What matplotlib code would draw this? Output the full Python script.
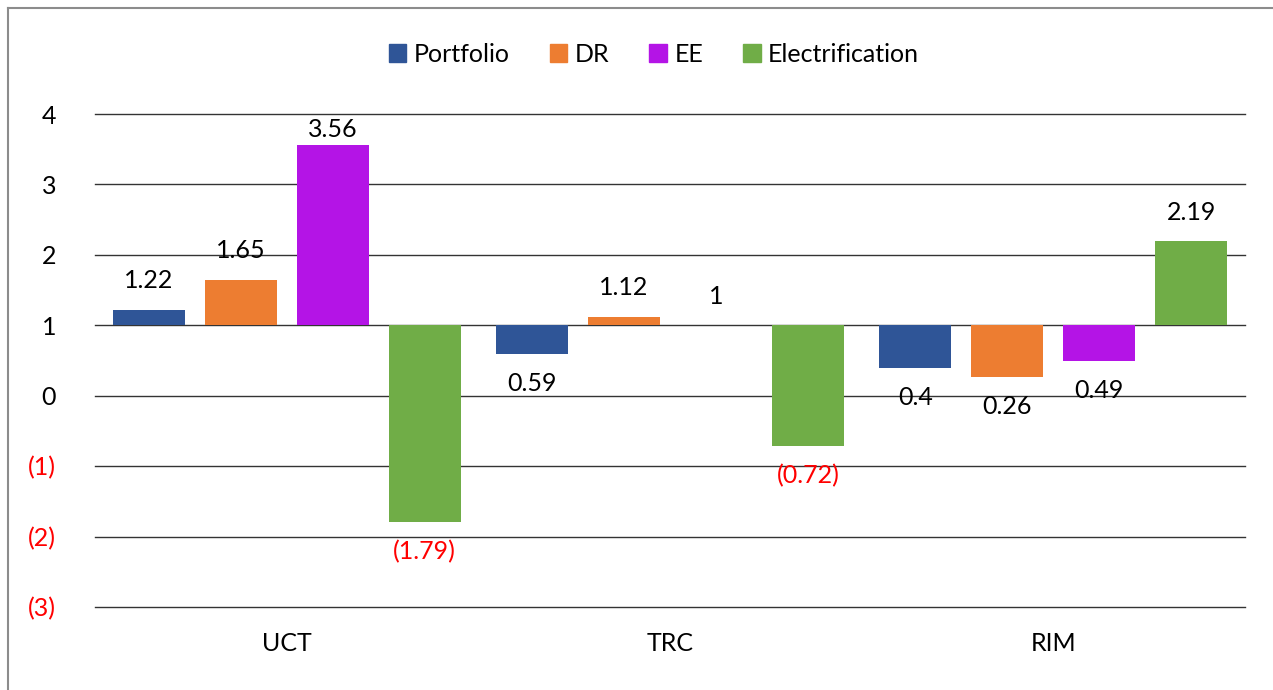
import numpy as np
import matplotlib.pyplot as plt
from matplotlib.lines import Line2D

plt.rcParams['font.family'] = ['Lato', 'DejaVu Sans']

categories = ['UCT', 'TRC', 'RIM']
series = ['Portfolio', 'DR', 'EE', 'Electrification']
portfolio = [1.22, 0.59, 0.40]
dr = [1.65, 1.12, 0.26]
ee = [3.56, 1.00, 0.49]
electrification = [-1.79, -0.72, 2.19]
colors = ['#2F5597', '#ED7D31', '#B414E6', '#70AD47']
yticks = [-3, -2, -1, 0, 1, 2, 3, 4]

base = 1  # horizontal axis crosses at 1

fig = plt.figure(figsize=(12.73, 6.9), dpi=100)
ax = fig.add_axes([95 / 1273, 1 - 607 / 690, 1150 / 1273, (607 - 114) / 690])

x = np.arange(len(categories))
slot = 0.24
width = 0.188
for i, (name, vals, c) in enumerate(zip(series, [portfolio, dr, ee, electrification], colors)):
    pos = x + (i - 1.5) * slot
    vals = np.array(vals)
    ax.bar(pos, vals - base, width, bottom=base, color=c, label=name, zorder=2)
    for xp, v in zip(pos, vals):
        txt = f'({abs(v):g})' if v < 0 else f'{v:g}'
        col = 'red' if v < 0 else 'black'
        if v >= base:
            y = min(v + 0.41, 3.78)
        else:
            y = v - 0.42
        ax.text(xp, y, txt, ha='center', va='center', fontsize=18, color=col, zorder=3)

ax.set_xlim(-0.5, 2.5)
ax.set_ylim(-3, 4)
ax.set_yticks(yticks)
ax.set_yticklabels([f'({abs(t)})' if t < 0 else str(t) for t in yticks], fontsize=18)
for lbl, t in zip(ax.get_yticklabels(), yticks):
    if t < 0:
        lbl.set_color('red')
ax.set_xticks(x)
ax.set_xticklabels(categories, fontsize=18)
ax.tick_params(axis='both', length=0)
ax.tick_params(axis='y', pad=28)
ax.tick_params(axis='x', pad=18)
for s in ax.spines.values():
    s.set_visible(False)
for t in yticks:
    ax.axhline(t, color='#333333', linewidth=1.0, zorder=0, clip_on=False)

handles = [plt.Rectangle((0, 0), 1, 1, color=c) for c in colors]
fig.legend(handles, series, loc='center', bbox_to_anchor=(654 / 1273, 1 - 54 / 690),
           ncol=4, frameon=False, fontsize=18, handlelength=0.7, handleheight=0.7,
           handletextpad=0.3, columnspacing=1.6)

# chart area border (top and left visible)
fig.add_artist(Line2D([8 / 1273, 1.0], [1 - 8 / 690, 1 - 8 / 690], color='#8c8c8c', lw=1.5))
fig.add_artist(Line2D([8 / 1273, 8 / 1273], [0, 1 - 8 / 690], color='#8c8c8c', lw=1.5))

fig.savefig('out.png', dpi=100)
